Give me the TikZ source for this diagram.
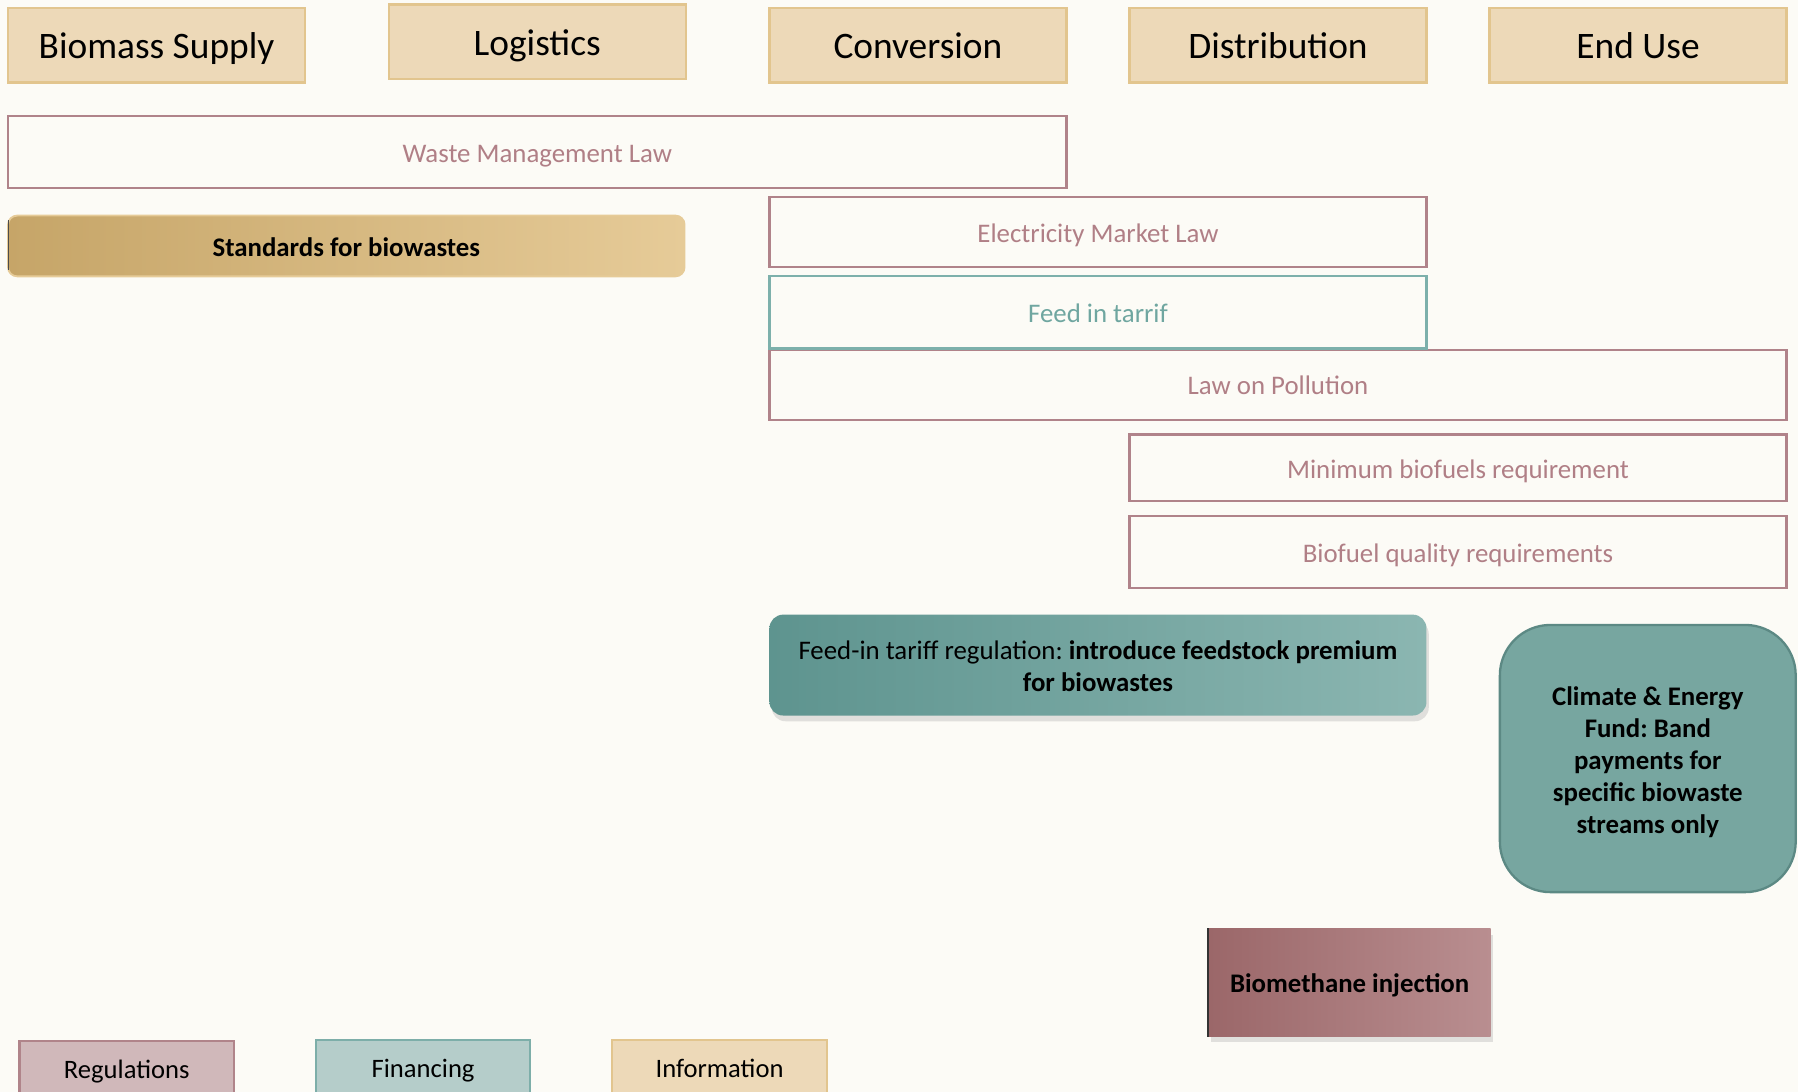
\documentclass[tikz,border=0pt]{standalone}
\usepackage{fontspec}
\setmainfont{Carlito}
\frenchspacing
\usetikzlibrary{shadows}
\definecolor{bgc}{HTML}{FCFBF6}
\definecolor{headfill}{HTML}{EDD9B8}
\definecolor{headdraw}{HTML}{E2C58E}
\definecolor{rosed}{HTML}{B0838A}
\definecolor{roset}{HTML}{B07F86}
\definecolor{teald}{HTML}{7DB0AB}
\definecolor{tealt}{HTML}{6FA6A0}
\definecolor{stdl}{HTML}{C6A568}
\definecolor{stdr}{HTML}{E6CB98}
\definecolor{fitl}{HTML}{5E948F}
\definecolor{fitr}{HTML}{8BB6B1}
\definecolor{cefill}{HTML}{77A6A0}
\definecolor{cedraw}{HTML}{5C8984}
\definecolor{bml}{HTML}{9B6769}
\definecolor{bmr}{HTML}{B98E90}
\definecolor{regfill}{HTML}{D0B8BA}
\definecolor{regdraw}{HTML}{B0848A}
\definecolor{finfill}{HTML}{B5CDCA}
\definecolor{findraw}{HTML}{7DAEA9}
\tikzset{
  oneline/.style={text height=0.89em, text depth=0pt},
  headbox/.style={draw=headdraw, fill=headfill, line width=1pt, minimum width=129.5pt, minimum height=32.5pt, inner sep=0pt, font=\fontsize{16.3}{19}\selectfont, text=black, text height=1.16em, text depth=0pt},
  lawbox/.style={draw=rosed, fill=bgc, line width=1pt, inner sep=0pt, font=\fontsize{11.7}{14}\selectfont, text=roset, oneline},
  tealbox/.style={draw=teald, fill=bgc, line width=1pt, inner sep=0pt, font=\fontsize{11.7}{14}\selectfont, text=tealt, oneline},
  legbox/.style={line width=1pt, minimum width=93.5pt, minimum height=27pt, inner sep=0pt, font=\fontsize{11.6}{14}\selectfont, text=black, text height=0.56em, text depth=0pt},
  softshadow/.style={drop shadow={opacity=0.22, shadow xshift=1pt, shadow yshift=-2.5pt}},
}
\begin{document}
\begin{tikzpicture}[x=0.5pt, y=-0.5pt]
\fill[bgc] (0,0) rectangle (1568,952);
\useasboundingbox (0,0) rectangle (1568,952);
\clip (0,0) rectangle (1568,952);
% headers
\node[headbox] (bs) at (136.5,39.5) {Biomass Supply};
\node[headbox] (lg) at (468.5,36.5) {Logistics};
\node[headbox] (cv) at (800.5,39.5) {Conversion};
\node[headbox] (ds) at (1114.5,39.5) {Distribution};
\node[headbox] (eu) at (1428.5,39.5) {End Use};
% laws
\node[lawbox, minimum width=461.5pt, minimum height=31.5pt] (wml) at (468.5,132.5) {Waste Management Law};
\node[draw=stdr, line width=0.8pt, left color=stdl, right color=stdr, rounded corners=4pt, minimum width=295pt, minimum height=26.5pt, inner sep=0pt, font=\fontsize{11.7}{14}\selectfont\bfseries, oneline] (std) at (302,214.5) {Standards for biowastes};
\draw[black!70, line width=0.6pt] (std.north west) ++(1,5) -- ++(0,43);
\node[lawbox, minimum width=286.5pt, minimum height=30.5pt] (eml) at (957.5,202.5) {Electricity Market Law};
\node[lawbox, minimum width=443.5pt, minimum height=30.5pt] (lop) at (1114.5,335.5) {Law on Pollution};
\node[tealbox, minimum width=286.5pt, minimum height=31.5pt] (fit) at (957.5,272.5) {Feed in tarrif};
\node[lawbox, minimum width=286.5pt, minimum height=29pt] (mbr) at (1271.5,408) {Minimum biofuels requirement};
\node[lawbox, minimum width=286.5pt, minimum height=31.5pt] (bqr) at (1271.5,481.5) {Biofuel quality requirements};
% measures
\node[left color=fitl, right color=fitr, rounded corners=6pt, minimum width=286.5pt, minimum height=44pt, inner sep=0pt, softshadow] (fitr) at (957.5,580) {};
\node[align=center, font=\fontsize{11.7}{14}\selectfont, inner sep=0pt] (fitrt) at (957.5,581) {Feed-in tariff regulation: \textbf{introduce feedstock premium}\\\textbf{for biowastes}};
\node[draw=cedraw, fill=cefill, line width=1pt, rounded corners=22pt, minimum width=129pt, minimum height=116.5pt, inner sep=0pt] (cef) at (1437,661.5) {};
\node[align=center, font=\fontsize{11.7}{14}\selectfont\bfseries, inner sep=0pt] (ceft) at (1437,664.5) {Climate \& Energy\\Fund: Band\\payments for\\specific biowaste\\streams only};
\node[left color=bml, right color=bmr, minimum width=123pt, minimum height=47pt, inner sep=0pt, font=\fontsize{11.7}{14}\selectfont\bfseries, oneline, softshadow] (bmi) at (1177,857) {Biomethane injection};
\draw[black!80, line width=0.6pt] (bmi.north west) -- (bmi.south west);
% legend
\node[legbox, draw=regdraw, fill=regfill] (reg) at (110.5,935) {Regulations};
\node[legbox, draw=findraw, fill=finfill] (fin) at (369,934) {Financing};
\node[legbox, draw=headdraw, fill=headfill] (inf) at (627.5,934) {Information};
\end{tikzpicture}
\end{document}
